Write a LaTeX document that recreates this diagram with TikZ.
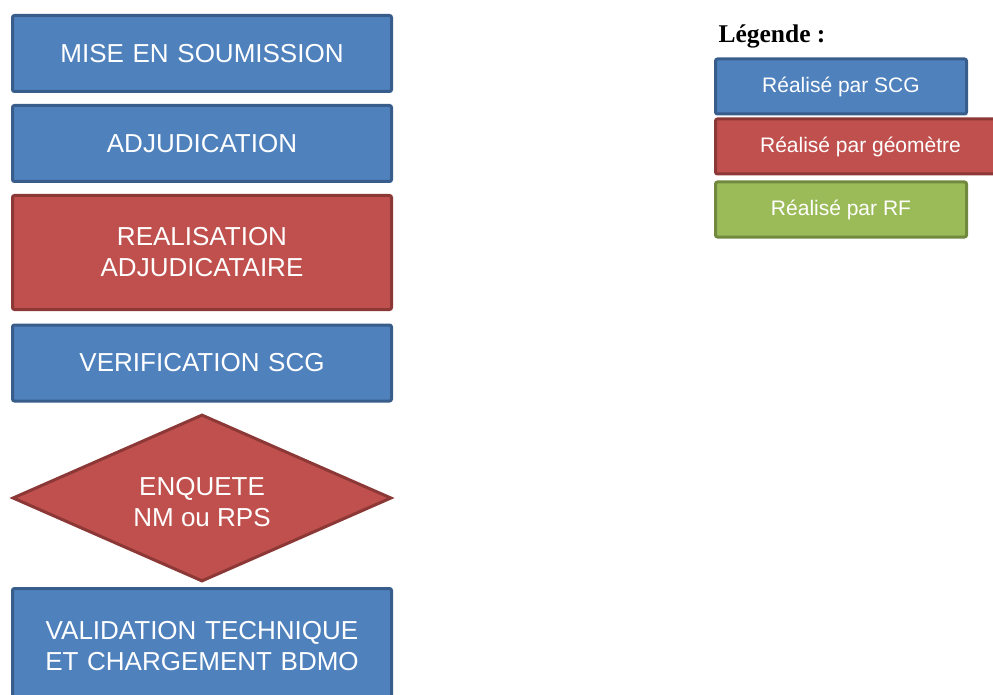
\documentclass[tikz,border=0pt]{standalone}
\usepackage{fontspec}
\setmainfont{Liberation Serif}
\newfontfamily\boxfont{Liberation Sans}
\usetikzlibrary{shapes, arrows, positioning}
\definecolor{scgfill}{HTML}{4F81BD}
\definecolor{scgdraw}{HTML}{385D8A}
\definecolor{geofill}{HTML}{C0504D}
\definecolor{geodraw}{HTML}{8C3836}
\definecolor{rffill}{HTML}{9BBB59}
\definecolor{rfdraw}{HTML}{71893F}

\begin{document}
\begin{tikzpicture}[x=1pt, y=1pt, node distance=90pt, line width=3pt]
    % Define block styles
    \tikzstyle{block} = [rectangle, draw, text=white, text width=360pt, text centered, 
        rounded corners=2pt, minimum width=379pt, minimum height=76pt, font=\boxfont\fontsize{26}{31}\selectfont]
    \tikzstyle{blueblock} = [block, fill=scgfill, draw=scgdraw]
    \tikzstyle{redblock} = [block, fill=geofill, draw=geodraw]
    \tikzstyle{decision} = [diamond, draw=geodraw, fill=geofill, text=white, align=center, inner sep=0pt,
        minimum width=379pt, minimum height=167pt, aspect=2.27, font=\boxfont\fontsize{26}{31}\selectfont]
    \tikzstyle{legend} = [rectangle, draw, text=white, text centered, rounded corners=2pt,
        minimum width=251pt, minimum height=55pt, font=\boxfont\fontsize{21}{25}\selectfont]

    \useasboundingbox (0,0) rectangle (993,-695);

    % Define nodes
    \node [blueblock] (soumission) at (202,-53.5) {MISE EN SOUMISSION};
    \node [blueblock, below of=soumission] (adjudication) {ADJUDICATION};
    \node [redblock, below of=adjudication, node distance=109pt, minimum height=114pt] (realisation) {REALISATION\\ADJUDICATAIRE};
    \node [blueblock, below of=realisation, node distance=110.5pt] (verification) {VERIFICATION SCG};
    \node [decision, below of=verification, node distance=135pt] (enquete) {\\[-4pt]ENQUETE\\NM ou RPS};
    \node [blueblock, below of=enquete, node distance=148.5pt, minimum height=116pt] (validation) {VALIDATION TECHNIQUE\\ET CHARGEMENT BDMO};

    % Legend
    \node [anchor=base west, inner sep=0pt, font=\bfseries\fontsize{25.5}{30}\selectfont] (legende) at (717,-43) {Légende :};
    \node [legend, fill=scgfill, draw=scgdraw] (leg scg) at (841,-86.5) {Réalisé par SCG};
    \node [legend, fill=geofill, draw=geodraw, minimum width=290pt] (leg geo) at (860.5,-146.5) {Réalisé par géomètre};
    \node [legend, fill=rffill, draw=rfdraw, below of=leg scg, node distance=123pt] (leg rf) {Réalisé par RF};

\end{tikzpicture}
\end{document}
